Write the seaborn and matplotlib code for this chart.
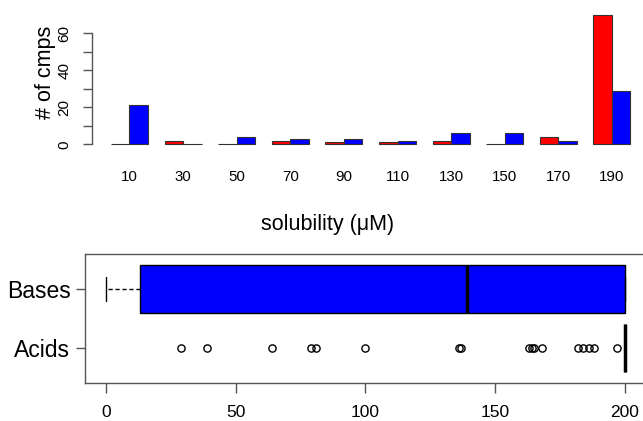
import numpy as np
import pandas as pd
import matplotlib
matplotlib.use("Agg")
import matplotlib.pyplot as plt
import seaborn as sns

# ---- data ----
bins = ["10", "30", "50", "70", "90", "110", "130", "150", "170", "190"]
acids_counts = [0, 2, 0, 2, 1, 1, 2, 0, 4, 70]
bases_counts = [21, 0, 4, 3, 3, 2, 6, 6, 2, 29]

# boxplot raw values
bases_values = [0, 13, 139, 200, 200]
acids_outliers = [29, 39, 64, 79, 81, 100, 136, 137, 163, 164, 165, 168,
                  182, 184, 186, 188, 197]
acids_plateau_value = 200
acids_plateau_count = 65

groups = ["Acids", "Bases"]
colors = {"Acids": "#ff0000", "Bases": "#0000ff"}

sns.set_style("white")
plt.rcParams["font.family"] = ["Liberation Sans", "DejaVu Sans"]
plt.rcParams["text.color"] = "black"
plt.rcParams["xtick.labelcolor"] = "black"
plt.rcParams["ytick.labelcolor"] = "black"

W, H = 643, 421
fig = plt.figure(figsize=(W / 100, H / 100), dpi=100)

def px_axes(l, t, r, b):
    return fig.add_axes([l / W, 1 - b / H, (r - l) / W, (b - t) / H])

gray = "#555555"

# ---- top: histogram bars ----
ax1 = px_axes(91.7, 9.6, 641.4, 149.5)
df_hist = pd.DataFrame({
    "bin": bins * 2,
    "count": acids_counts + bases_counts,
    "type": ["Acids"] * len(bins) + ["Bases"] * len(bins),
})
sns.barplot(data=df_hist, x="bin", y="count", hue="type", order=bins,
            hue_order=groups, palette=colors, width=0.69, saturation=1,
            edgecolor="#333333", linewidth=0.8, errorbar=None, legend=False,
            ax=ax1)
ax1.set_xlim(-0.705, 9.55)
ax1.set_ylim(-2.8, 72.8)
for s in ["top", "right", "bottom"]:
    ax1.spines[s].set_visible(False)
ax1.spines["left"].set_bounds(0, 60)
ax1.spines["left"].set_color(gray)
ax1.spines["left"].set_linewidth(1)
ax1.set_yticks([0, 10, 20, 30, 40, 50, 60])
ax1.set_yticklabels(["0", "", "20", "", "40", "", "60"])
ax1.tick_params(axis="y", length=6.5, width=1, color=gray, pad=8,
                labelsize=11, labelrotation=90, left=True)
for lab in ax1.get_yticklabels():
    lab.set_va("center")
ax1.tick_params(axis="x", length=0, pad=15, labelsize=10.8)
ax1.set_xlabel("")
ax1.set_ylabel("")
fig.text(46 / W, 1 - 72 / H, "# of cmps", rotation=90, ha="center",
         va="center", fontsize=15.5)
fig.text(328 / W, 1 - 230 / H, "solubility (μM)", ha="center",
         va="baseline", fontsize=15.5)

# ---- bottom: boxplot ----
ax2 = px_axes(85, 254.4, 645.8, 382.7)
acids_values = acids_outliers + [acids_plateau_value] * acids_plateau_count
df_box = pd.DataFrame({
    "sol": bases_values + acids_values,
    "type": ["Bases"] * len(bases_values) + ["Acids"] * len(acids_values),
})
sns.boxplot(data=df_box, x="sol", y="type", order=["Bases", "Acids"],
            hue="type", hue_order=groups, palette=colors, saturation=1,
            width=0.8, whis=1.5, linecolor="black", linewidth=1,
            flierprops=dict(marker="o", markersize=5.2, markerfacecolor="none",
                            markeredgecolor="black", markeredgewidth=1),
            whiskerprops=dict(linestyle=(0, (3, 2))),
            medianprops=dict(linewidth=2.5, color="black"),
            legend=False, ax=ax2)
ax2.set_xlim(-8, 208)
ax2.set_ylim(1.58, -0.58)
for s in ax2.spines.values():
    s.set_visible(True)
    s.set_color(gray)
    s.set_linewidth(1)
ax2.set_xticks([0, 50, 100, 150, 200])
ax2.tick_params(axis="x", length=7, width=1, color=gray, pad=9,
                labelsize=12.5, bottom=True)
ax2.tick_params(axis="y", length=6.5, width=1, color=gray, pad=4,
                labelsize=16.5, left=True)
ax2.set_xlabel("")
ax2.set_ylabel("")

fig.savefig("out.png", dpi=100)
